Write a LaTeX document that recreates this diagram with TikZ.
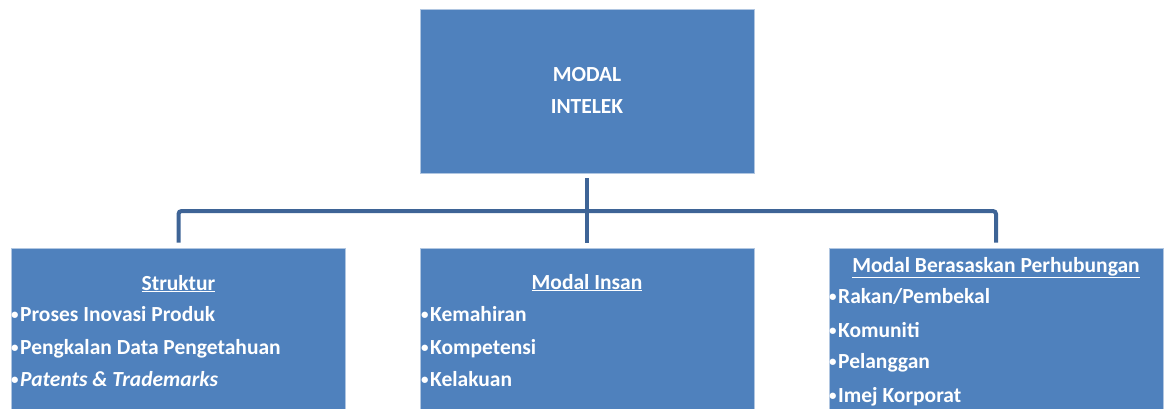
\documentclass[tikz,border=0pt]{standalone}
\usepackage{fontspec}
\setmainfont{Carlito}
\definecolor{boxblue}{RGB}{79,129,189}
\definecolor{linkblue}{RGB}{62,100,150}
\newcommand{\blt}{{\fontsize{15}{15}\selectfont\raisebox{1.2pt}{•}}\hspace{1.5pt}}
\begin{document}
\begin{tikzpicture}[x=1pt,y=-1pt,
  box/.style={rectangle, fill=boxblue, draw=boxblue!45!white, line width=0.8pt, minimum width=334pt, inner sep=0pt},
  txt/.style={text=white, font=\fontsize{21.5}{25}\selectfont\bfseries, inner sep=0pt, anchor=base west},
  head/.style={text=white, font=\fontsize{21.5}{25}\selectfont\bfseries, inner sep=0pt, anchor=base},
  conn/.style={draw=linkblue, line width=4pt}]
\useasboundingbox (0,0) rectangle (1165,408);
\clip (0,0) rectangle (1165,408);
% boxes
\node[box, minimum height=164pt] (top) at (587,91) {};
\node[box, minimum height=172pt] (left) at (178.5,334) {};
\node[box, minimum height=172pt] (mid) at (587,334) {};
\node[box, minimum height=172pt] (right) at (996,334) {};
% connectors
\coordinate (bar) at (587,211);
\draw[conn] ([yshift=-5pt]top.south) -- ([yshift=5pt]mid.north);
\draw[conn, rounded corners=3pt] ([yshift=5pt]left.north) |- (bar) -| ([yshift=5pt]right.north);
% top text
\node[head] (t1) at (587,81) {MODAL};
\node[head] (t2) at (587,113) {INTELEK};
% left box
\node[head] (lh) at (178.5,290) {\underline{Struktur}};
\node[txt] (l1) at (11,321) {\blt Proses Inovasi Produk};
\node[txt] (l2) at (11,354) {\blt Pengkalan Data Pengetahuan};
\node[txt] (l3) at (11,386) {\blt\textit{Patents \& Trademarks}};
% middle box
\node[head] (mh) at (587,289) {\underline{Modal Insan}};
\node[txt] (m1) at (421,321) {\blt Kemahiran};
\node[txt] (m2) at (421,354) {\blt Kompetensi};
\node[txt] (m3) at (421,386) {\blt Kelakuan};
% right box
\node[head] (rh) at (996,272) {\underline{Modal Berasaskan Perhubungan}};
\node[txt] (r1) at (829,303) {\blt Rakan/Pembekal};
\node[txt] (r2) at (829,337) {\blt Komuniti};
\node[txt] (r3) at (829,368) {\blt Pelanggan};
\node[txt] (r4) at (829,402) {\blt Imej Korporat};
\end{tikzpicture}
\end{document}
